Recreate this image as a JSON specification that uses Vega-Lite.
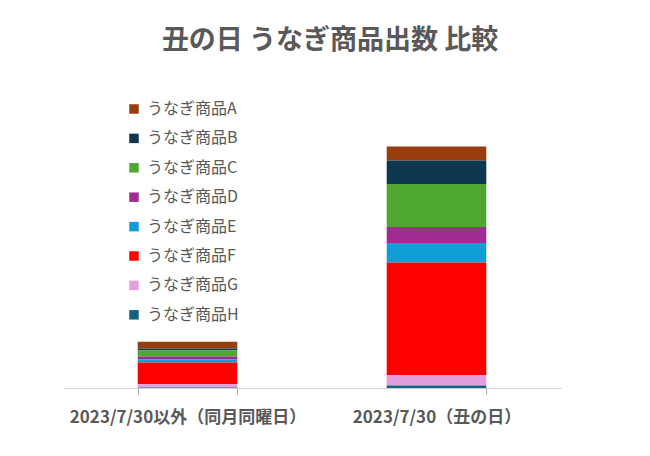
{
  "$schema": "https://vega.github.io/schema/vega-lite/v6.json",
  "width": 498,
  "height": 288,
  "autosize": "none",
  "padding": {"left": 63, "top": 100, "right": 89, "bottom": 68},
  "background": "white",
  "config": {
    "view": {"stroke": null},
    "font": "Noto Sans CJK JP",
    "title": {"color": "#595959", "fontSize": 27, "fontWeight": "bold", "font": "Noto Sans CJK JP"}
  },
  "title": {"text": "丑の日 うなぎ商品出数 比較", "anchor": "middle", "dx": 18, "offset": 45},
  "data": {
    "values": [
      {"day": "2023/7/30以外（同月同曜日）", "product": "うなぎ商品A", "count": 34},
      {"day": "2023/7/30以外（同月同曜日）", "product": "うなぎ商品B", "count": 8},
      {"day": "2023/7/30以外（同月同曜日）", "product": "うなぎ商品C", "count": 32},
      {"day": "2023/7/30以外（同月同曜日）", "product": "うなぎ商品D", "count": 15},
      {"day": "2023/7/30以外（同月同曜日）", "product": "うなぎ商品E", "count": 15},
      {"day": "2023/7/30以外（同月同曜日）", "product": "うなぎ商品F", "count": 108},
      {"day": "2023/7/30以外（同月同曜日）", "product": "うなぎ商品G", "count": 17},
      {"day": "2023/7/30以外（同月同曜日）", "product": "うなぎ商品H", "count": 2},
      {"day": "2023/7/30（丑の日）", "product": "うなぎ商品A", "count": 70},
      {"day": "2023/7/30（丑の日）", "product": "うなぎ商品B", "count": 118},
      {"day": "2023/7/30（丑の日）", "product": "うなぎ商品C", "count": 215},
      {"day": "2023/7/30（丑の日）", "product": "うなぎ商品D", "count": 80},
      {"day": "2023/7/30（丑の日）", "product": "うなぎ商品E", "count": 97},
      {"day": "2023/7/30（丑の日）", "product": "うなぎ商品F", "count": 563},
      {"day": "2023/7/30（丑の日）", "product": "うなぎ商品G", "count": 52},
      {"day": "2023/7/30（丑の日）", "product": "うなぎ商品H", "count": 13}
    ]
  },
  "mark": {"type": "bar"},
  "encoding": {
    "x": {
      "field": "day",
      "type": "nominal",
      "sort": null,
      "title": null,
      "scale": {"paddingInner": 0.6, "paddingOuter": 0.3},
      "axis": {
        "labelAngle": 0,
        "labelFontSize": 17,
        "labelFontWeight": "bold",
        "labelColor": "#595959",
        "labelPadding": 15,
        "labelLimit": 0,
        "domainColor": "#d0d0d0",
        "ticks": true,
        "tickColor": "#a0a0a0",
        "tickOpacity": 1,
        "tickWidth": 1,
        "tickSize": 6,
        "tickBand": "extent"
      }
    },
    "y": {
      "field": "count",
      "type": "quantitative",
      "stack": "zero",
      "scale": {"domain": [0, 1440]},
      "axis": null
    },
    "order": {"field": "product", "sort": "descending"},
    "color": {
      "field": "product",
      "type": "nominal",
      "scale": {
        "domain": ["うなぎ商品A", "うなぎ商品B", "うなぎ商品C", "うなぎ商品D", "うなぎ商品E", "うなぎ商品F", "うなぎ商品G", "うなぎ商品H"],
        "range": ["#973D0E", "#0E384F", "#4EA72E", "#A02B93", "#0F9ED5", "#FF0000", "#E59EDD", "#156082"]
      },
      "legend": {
        "title": null,
        "orient": "none",
        "legendX": 63,
        "legendY": 1,
        "symbolType": "square",
        "symbolSize": 90,
        "symbolStrokeWidth": 0,
        "labelFontSize": 16,
        "labelColor": "#595959",
        "labelOffset": 5,
        "rowPadding": 13.4
      }
    }
  }
}
